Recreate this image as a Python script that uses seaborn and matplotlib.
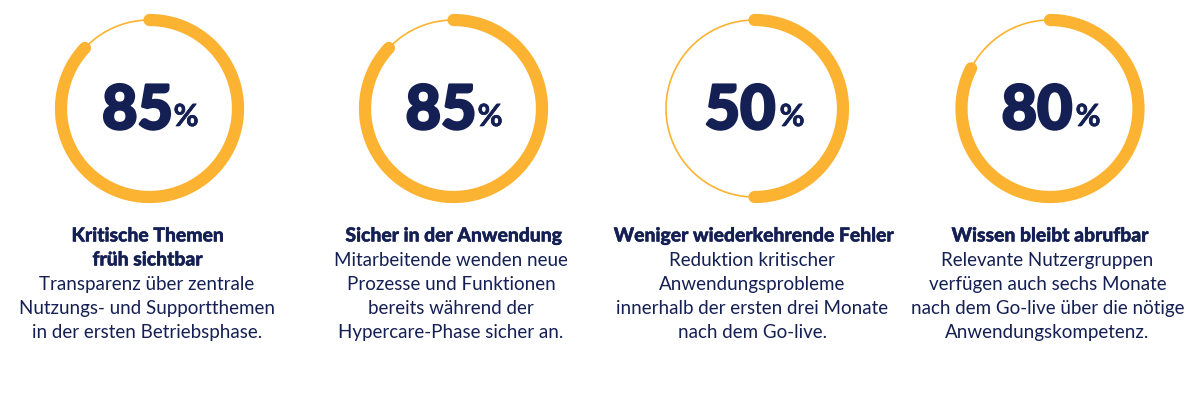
import numpy as np
import pandas as pd
import seaborn as sns
import matplotlib.pyplot as plt
import matplotlib.patheffects as pe

percent_labels = [85, 85, 50, 80]
# the thick arcs run a little past the printed number in the picture
arc_values = [87, 87, 50, 82.5]
headings = [
    ["Kritische Themen", "früh sichtbar"],
    ["Sicher in der Anwendung"],
    ["Weniger wiederkehrende Fehler"],
    ["Wissen bleibt abrufbar"],
]
descriptions = [
    ["Transparenz über zentrale", "Nutzungs- und Supportthemen", "in der ersten Betriebsphase."],
    ["Mitarbeitende wenden neue", "Prozesse und Funktionen", "bereits während der", "Hypercare-Phase sicher an."],
    ["Reduktion kritischer", "Anwendungsprobleme", "innerhalb der ersten drei Monate", "nach dem Go-live."],
    ["Relevante Nutzergruppen", "verfügen auch sechs Monate", "nach dem Go-live über die nötige", "Anwendungskompetenz."],
]

ORANGE = "#FDB332"
NAVY = "#141F54"
W, H = 1200, 400

ring_x = [149.5, 453.5, 754.5, 1050]
ring_y = 108.5
heading_x = [147.5, 453.5, 753.5, 1050]
body_x = [147, 451, 752, 1047.5]
num_x = [137.5, 441, 740, 1037]
pct_x = [186, 490, 792, 1088]
LINE_TOP = 236
LINE_STEP = 24

sns.set_theme(style="white")
plt.rcParams["font.family"] = ["Lato", "DejaVu Sans"]

fig = plt.figure(figsize=(W / 100, H / 100), dpi=100, facecolor="white")


def arc_frame(start, end):
    theta = np.linspace(start, end, 300) / 100 * 2 * np.pi
    return pd.DataFrame({"theta": theta, "r": 88.5})


def heavy(width):
    return [pe.withStroke(linewidth=width, foreground=NAVY)]


for i, value in enumerate(arc_values):
    # axes is 200 px wide and r runs to 100, so r units are pixels
    ax = fig.add_axes(
        [(ring_x[i] - 100) / W, 1 - (ring_y + 100) / H, 200 / W, 200 / H],
        projection="polar",
    )
    ax.set_theta_zero_location("N")
    ax.set_theta_direction(-1)

    sns.lineplot(data=arc_frame(value, 100), x="theta", y="r", ax=ax, color=ORANGE,
                 lw=1.2, sort=False, estimator=None, errorbar=None)
    sns.lineplot(data=arc_frame(0, value), x="theta", y="r", ax=ax, color=ORANGE,
                 lw=8.8, sort=False, estimator=None, errorbar=None,
                 solid_capstyle="round")
    ax.set_ylim(0, 100)
    ax.axis("off")

    fig.text(num_x[i] / W, 1 - 111 / H, str(percent_labels[i]), color=NAVY, fontsize=44,
             fontweight="black", ha="center", va="center", path_effects=heavy(1.8))
    fig.text(pct_x[i] / W, 1 - 117 / H, "%", color=NAVY, fontsize=22,
             fontweight="bold", ha="center", va="center", path_effects=heavy(0.5))

    y = LINE_TOP
    for line in headings[i]:
        fig.text(heading_x[i] / W, 1 - y / H, line, color=NAVY, fontsize=13.9,
                 fontweight="black", ha="center", va="center", path_effects=heavy(0.3))
        y += LINE_STEP
    for line in descriptions[i]:
        fig.text(body_x[i] / W, 1 - (y + 0.5) / H, line, color=NAVY, fontsize=13.5,
                 fontweight="normal", ha="center", va="center")
        y += LINE_STEP

fig.savefig("out.png", dpi=100)
